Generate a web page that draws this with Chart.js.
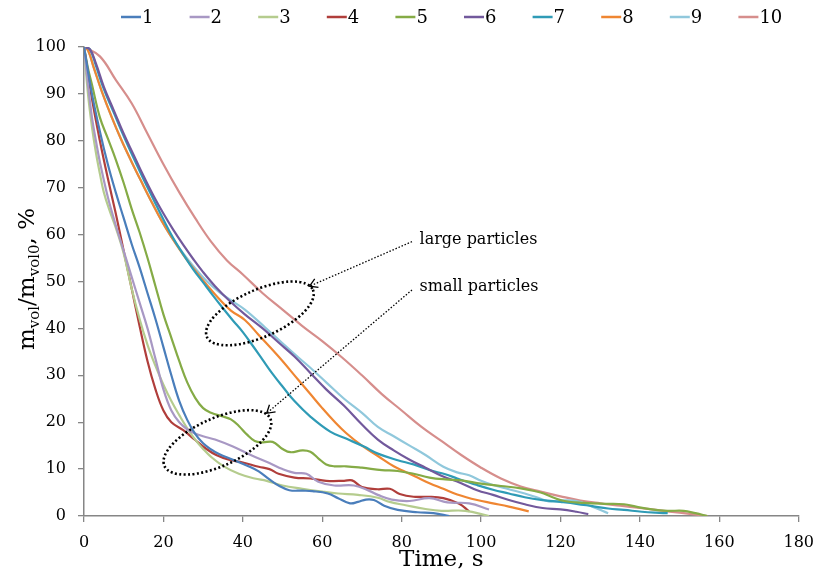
<!DOCTYPE html>
<html>
<head>
<meta charset="utf-8">
<script src="https://cdn.jsdelivr.net/npm/chart.js@4.4.1/dist/chart.umd.min.js"></script>
<style>
  html, body { margin: 0; padding: 0; background: #fff; }
  #wrap { width: 825px; height: 574px; }
</style>
</head>
<body>
<div id="wrap"><canvas id="chart" width="825" height="574"></canvas></div>
<script>
// drying curves: volatile mass left vs time, 10 runs
const time1 = [0,2,4,6,8,10,12,14,16,18,20,22,24,26,28,30,32,34,37.5,41.7,44,46.7,49,51.7,55,57.5,61.4,64,67,69,71,73,75.6,79,84,88,92];
const mass1 = [100,90,82,75,69,63.5,58,53,47.5,42,36,30,24.5,20.5,17.5,15.5,14.2,13.2,12,10.5,9.5,7.8,6.5,5.5,5.4,5.3,4.8,3.8,2.7,3,3.5,3.4,2.2,1.3,0.8,0.6,0];

const time2 = [0,1,2,3,4,6,8,10,12,14,16,18,20,22,24,26,28,30,33,37.5,42,46.7,50,53,56,59,63,68,72,74,77.5,82,87,91.5,97,102];
const mass2 = [100,92,85,80,75.5,68,62,56.5,51,45.5,40,33.5,27,22.5,20,18.5,17.6,17,16.3,14.8,13,11.3,10,9.2,9,7.3,6.5,6.5,5.3,4.5,3.5,3.2,3.8,2.9,2.7,1.4];

const time3 = [0,1,2,3,4,5,6.5,8,10,12,14,16,18,20,22,24,26,28,30,32,35,39,43,46,50,55,60,64,69,74,77,81,86,90,96,102];
const mass3 = [100,90,83,77.5,73,69,65,61.5,56,48.5,42,36.5,32,28,24.5,21.5,18.7,16.3,14.3,12.6,10.7,9,8,7.5,6.5,5.8,5.2,4.8,4.5,3.9,3,2.3,1.5,1.1,1.1,0];

const time4 = [0,2,4,6,8,10,12,14,16,18,20,22,25,28,30.5,33.3,36.5,40,44,46.7,49,53,57,61,65.5,67.5,70,74,77,79.5,83,86.5,90.5,94.5,97];
const mass4 = [100,89,80,72,64.5,56.5,48.5,40.5,33,27,22.5,20,18.3,16.2,14.5,13,12,11.4,10.5,10,9,8.2,8,7.5,7.5,7.6,6.2,5.7,5.8,4.7,4.1,4.1,3.8,2.6,1];

const time5 = [0,1,2,4,6,8,10,12,14,16,18,20,22,24,26,28,30,32,35,37,39,41,43,45,47.5,50,52,55,57,59,61,63,66,70,75,79,83,87,91,95,100,105,110,115,118,121,126,131,136,139,143,147,151,154,157];
const mass5 = [100,95.5,92,85,80.5,76,71,65.5,60.5,55,49,43,38,33,28.5,25.2,23,22,21.2,20.6,19.2,17.4,16,15.7,15.8,14.3,13.6,14,13.7,12.3,11,10.6,10.6,10.3,9.8,9.6,9,8.2,7.8,7.6,6.9,6.4,5.9,5,4,3.2,2.8,2.6,2.5,2,1.4,1.1,1.1,0.6,0];

const time6 = [0,1.5,3,5,7.5,10,12.5,15,17.5,20,22.5,25,27.5,30,33,36.5,40.5,45,49,53,57,61,65.5,70,74,78,82,86,90,95,99,103,107,111,115.5,120,124,127];
const mass6 = [100,99.5,96.5,91.5,86.5,81.5,77,72.5,68.3,64.5,61,57.8,54.8,52,49,46,43,40,37,34,30.5,27,23.5,19.5,16.3,14,12,10.3,8.6,7,5.5,4.5,3.4,2.5,1.7,1.4,0.9,0.4];

const time7 = [0,1.5,3,5,7.5,10,12.5,15,17.5,20,22.5,25,27.5,30,32.5,35,37.5,40,42.5,45,47.5,50,53,57,62,66,70.5,74,79,83,87,91,94,99,103,107,111,115.5,120,124,128,132,136,140.5,144,147];
const mass7 = [100,99.5,96,91,86,81,76.3,71.8,67.5,63.2,59.2,55.8,52.6,49.8,47,44.3,41.7,39.2,36.3,33.3,30.3,27.6,24.5,21.2,18,16.5,14.8,13.3,11.9,11,9.8,8.9,8,6.6,5.6,4.8,4,3.4,3,2.6,2.1,1.6,1.3,0.9,0.7,0.6];

const time8 = [0,1,2.5,4.5,7,9.5,12,14.5,17,19.5,22,25,28,31,34,37,40.5,44,49,54,57,60,63,66,70,74,78,81,84,87,90.5,94,99,103,107,110,112];
const mass8 = [100,99.3,95.5,90.5,85,80,75.5,71.2,67,63,59.5,55.7,52.3,49.2,46.3,43.8,41.8,38.6,34,29,26,23,20.2,17.7,15,12.8,10.6,9.4,8.2,7,5.8,4.6,3.4,2.7,2,1.4,1];

const time9 = [0,1,2.5,4.5,7,9.5,12,14.5,17,19.5,22,25,28,31,34,37,40.5,45.5,50,54,57,61,65.5,70,74,78,82,86,90.5,94,97,100,103,107,111,114,117,120,124,128,132];
const mass9 = [100,99.3,95.5,90.5,85,80,75.5,71.2,67,63,59.5,56,52.8,50,47.8,46,44,40.3,36.8,33.8,31.6,28.5,25,22,19,17,15,13,10.5,9.3,8.7,7.5,6.6,5.7,4.8,4,3.1,3.3,3.2,2,0.6];

const time10 = [0,4,8,12,16,20,24,28,32,36,40,45,50,55,60,65,70,75,80,85,90,95,100,105,110,115,120,125,130,135,140,145,150,155,157];
const mass10 = [100,98,93,88,81.5,75,69,63.5,58.5,54.5,51.5,47.5,44,40.5,37.3,33.8,30,26,22.5,19,16,13,10.3,8,6.3,5.2,4.2,3.3,2.7,2.2,1.7,1.2,0.7,0.2,0];

const seriesNames = ['1','2','3','4','5','6','7','8','9','10'];
const seriesTimes = [time1,time2,time3,time4,time5,time6,time7,time8,time9,time10];
const seriesMass = [mass1,mass2,mass3,mass4,mass5,mass6,mass7,mass8,mass9,mass10];
const seriesColors = ['#4A7EBB','#A898C4','#B5CC8E','#B03E3B','#85AB46','#72599C','#2F9BB6','#EF8632','#90C8DC','#D68E8C'];

const xTicksMax = 180;
const yTicksMax = 100;

const FONT = '"DejaVu Serif", serif';

// ellipses around the two groups and the dotted pointers to their labels
const groupRings = [
  { t: 44.3, v: 43.2, rx: 58, ry: 23.5, rot: -24 },
  { t: 33.6, v: 15.7, rx: 58, ry: 24, rot: -24 }
];
const pointers = [
  { from: [82.6, 58.5], to: [56.8, 49.0] },
  { from: [82.6, 48.2], to: [46.0, 21.9] }
];
const groupLabels = [
  { t: 84.5, v: 58.9, text: 'large particles' },
  { t: 84.5, v: 48.8, text: 'small particles' }
];

const datasets = seriesNames.map((name, i) => ({
  label: name,
  data: seriesTimes[i].map((t, k) => ({ x: t, y: seriesMass[i][k] })),
  borderColor: seriesColors[i],
  backgroundColor: seriesColors[i],
  borderWidth: 2.2,
  pointRadius: 0,
  fill: false,
  tension: 0.4
}));

const extras = {
  id: 'extras',
  afterDatasetsDraw(chart) {
    const ctx = chart.ctx;
    const sx = chart.scales.x, sy = chart.scales.y;
    ctx.save();
    ctx.strokeStyle = '#000';

    groupRings.forEach(r => {
      ctx.beginPath();
      ctx.ellipse(sx.getPixelForValue(r.t), sy.getPixelForValue(r.v), r.rx, r.ry, r.rot * Math.PI / 180, 0, Math.PI * 2);
      ctx.setLineDash([2, 2.4]);
      ctx.lineWidth = 2.6;
      ctx.stroke();
    });

    pointers.forEach(p => {
      const x1 = sx.getPixelForValue(p.from[0]), y1 = sy.getPixelForValue(p.from[1]);
      const x2 = sx.getPixelForValue(p.to[0]), y2 = sy.getPixelForValue(p.to[1]);
      ctx.beginPath();
      ctx.setLineDash([1.5, 1.8]);
      ctx.lineWidth = 1.3;
      ctx.moveTo(x1, y1);
      ctx.lineTo(x2, y2);
      ctx.stroke();
      // open arrow head
      const a = Math.atan2(y1 - y2, x1 - x2);
      ctx.setLineDash([]);
      ctx.beginPath();
      ctx.moveTo(x2 + 9 * Math.cos(a + 0.55), y2 + 9 * Math.sin(a + 0.55));
      ctx.lineTo(x2, y2);
      ctx.lineTo(x2 + 9 * Math.cos(a - 0.55), y2 + 9 * Math.sin(a - 0.55));
      ctx.stroke();
    });

    ctx.fillStyle = '#000';
    ctx.font = '16px ' + FONT;
    ctx.textAlign = 'left';
    ctx.textBaseline = 'middle';
    groupLabels.forEach(l => {
      ctx.fillText(l.text, sx.getPixelForValue(l.t), sy.getPixelForValue(l.v));
    });
    ctx.restore();
  },
  afterDraw(chart) {
    const ctx = chart.ctx;
    ctx.save();

    // legend row
    ctx.font = '18px ' + FONT;
    ctx.textBaseline = 'middle';
    ctx.textAlign = 'left';
    seriesNames.forEach((name, i) => {
      const x0 = 121 + i * 68.6;
      ctx.strokeStyle = seriesColors[i];
      ctx.lineWidth = 2.5;
      ctx.beginPath();
      ctx.moveTo(x0, 17);
      ctx.lineTo(x0 + 20, 17);
      ctx.stroke();
      ctx.fillStyle = '#000';
      ctx.fillText(name, x0 + 21, 18);
    });

    // y axis title with subscripts
    const parts = [
      ['m', 23, 0], ['vol', 15, 5], ['/m', 23, 0], ['vol0', 15, 5], [', %', 23, 0]
    ];
    let total = 0;
    parts.forEach(p => { ctx.font = p[1] + 'px ' + FONT; total += ctx.measureText(p[0]).width; });
    ctx.translate(34, 279);
    ctx.rotate(-Math.PI / 2);
    ctx.textBaseline = 'alphabetic';
    ctx.fillStyle = '#000';
    let cx = -total / 2;
    parts.forEach(p => {
      ctx.font = p[1] + 'px ' + FONT;
      ctx.fillText(p[0], cx, p[2]);
      cx += ctx.measureText(p[0]).width;
    });
    ctx.restore();
  }
};

const axisGrey = '#868686';

new Chart(document.getElementById('chart'), {
  type: 'line',
  data: { datasets },
  options: {
    responsive: false,
    animation: false,
    devicePixelRatio: 1,
    layout: { padding: { top: 47, right: 20, left: 0, bottom: 0 } },
    plugins: { legend: { display: false }, tooltip: { enabled: false } },
    scales: {
      x: {
        type: 'linear',
        min: 0,
        max: xTicksMax,
        ticks: { stepSize: 20, color: '#000', font: { family: FONT, size: 16 }, padding: 11, maxRotation: 0 },
        grid: { drawOnChartArea: false, tickLength: 6, color: axisGrey, lineWidth: 1.3 },
        border: { color: axisGrey, width: 1.5 },
        title: { display: true, text: 'Time, s', color: '#000', font: { family: FONT, size: 23 }, padding: 0 },
        afterFit(scale) { scale.height = 58; }
      },
      y: {
        min: 0,
        max: yTicksMax,
        ticks: { stepSize: 10, color: '#000', font: { family: FONT, size: 16 }, padding: 12 },
        grid: { drawOnChartArea: false, tickLength: 6, color: axisGrey, lineWidth: 1.3 },
        border: { color: axisGrey, width: 1.5 },
        afterFit(scale) { scale.width = 84; }
      }
    }
  },
  plugins: [extras]
});
</script>
</body>
</html>
